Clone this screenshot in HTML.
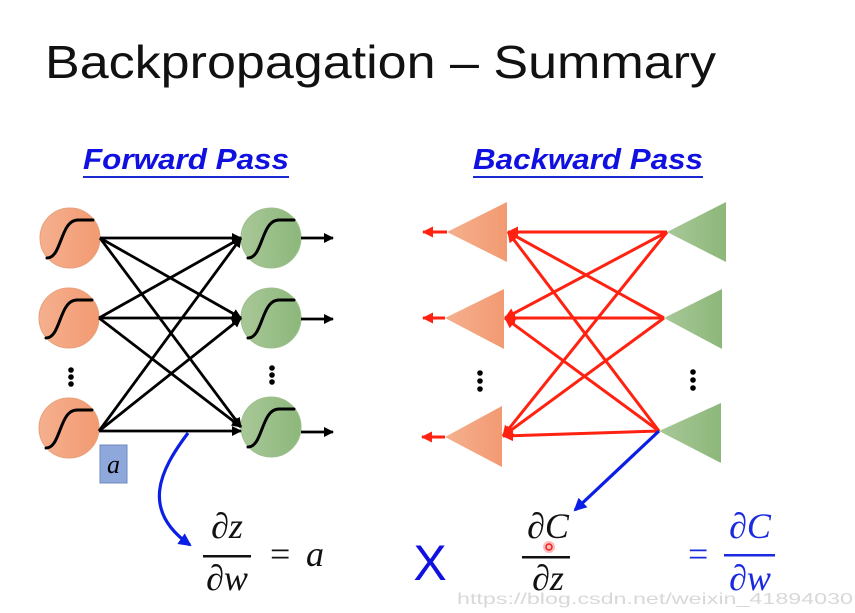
<!DOCTYPE html>
<html><head><meta charset="utf-8"><style>
html,body{margin:0;padding:0;background:#fff;}
svg{display:block;}
</style></head><body>
<svg width="855" height="613" viewBox="0 0 855 613" xmlns="http://www.w3.org/2000/svg">
<defs>
<marker id="ab" markerWidth="10" markerHeight="10" refX="9" refY="5" orient="auto" markerUnits="userSpaceOnUse"><path d="M0,0 L10,5 L0,10 z" fill="#000"/></marker>
<marker id="ar" markerWidth="11" markerHeight="11" refX="10" refY="5.5" orient="auto" markerUnits="userSpaceOnUse"><path d="M0,0 L11,5.5 L0,11 z" fill="#f21"/></marker>
<marker id="abl" markerWidth="13" markerHeight="13" refX="11" refY="6.5" orient="auto" markerUnits="userSpaceOnUse"><path d="M0,0 L13,6.5 L0,13 z" fill="#0a1ee6"/></marker>
<linearGradient id="og" x1="0" x2="1"><stop offset="0" stop-color="#f5b08e"/><stop offset="1" stop-color="#f29a72"/></linearGradient>
<linearGradient id="gg" x1="0" x2="1"><stop offset="0" stop-color="#a9c898"/><stop offset="1" stop-color="#8cb77a"/></linearGradient>
</defs>
<text x="45" y="78" font-family="Liberation Sans, sans-serif" font-size="46" textLength="671" lengthAdjust="spacingAndGlyphs" fill="#111">Backpropagation – Summary</text>
<g font-family="Liberation Sans, sans-serif" font-weight="bold" font-style="italic" font-size="29" fill="#1010e0">
<text x="83" y="169" textLength="206" lengthAdjust="spacingAndGlyphs">Forward Pass</text>
<text x="473" y="169" textLength="230" lengthAdjust="spacingAndGlyphs">Backward Pass</text>
</g>
<rect x="83" y="176" width="206" height="2" fill="#1a2ad0"/>
<rect x="473" y="176" width="230" height="2" fill="#1a2ad0"/>

<!-- forward -->
<g fill="url(#og)" stroke="#e8a07a" stroke-width="1">
<circle cx="70" cy="238" r="30"/><circle cx="69" cy="318" r="30"/><circle cx="69" cy="428" r="30"/>
</g>
<g fill="url(#gg)" stroke="#9dbf8c" stroke-width="1">
<circle cx="271" cy="238" r="30"/><circle cx="271" cy="318" r="30"/><circle cx="271" cy="427" r="30"/>
</g>
<g stroke="#000" stroke-width="3" fill="none" stroke-linecap="round">
<path d="M47,258 C62,258 60,220 78,220 L93,220"/>
<path d="M46,338 C61,338 59,300 77,300 L92,300"/>
<path d="M46,448 C61,448 59,410 77,410 L92,410"/>
<path d="M248,258 C263,258 261,220 279,220 L294,220"/>
<path d="M248,338 C263,338 261,300 279,300 L294,300"/>
<path d="M248,447 C263,447 261,409 279,409 L294,409"/>
</g>
<g stroke="#000" stroke-width="2.8" marker-end="url(#ab)">
<line x1="100" y1="238" x2="241" y2="238"/><line x1="100" y1="238" x2="241" y2="318"/><line x1="100" y1="238" x2="241" y2="427"/>
<line x1="99" y1="318" x2="241" y2="238"/><line x1="99" y1="318" x2="241" y2="318"/><line x1="99" y1="318" x2="241" y2="427"/>
<line x1="99" y1="431" x2="241" y2="238"/><line x1="99" y1="431" x2="241" y2="318"/><line x1="99" y1="431" x2="241" y2="431"/>
<line x1="301" y1="238" x2="333" y2="238"/><line x1="301" y1="319" x2="333" y2="319"/><line x1="301" y1="432" x2="333" y2="432"/>
</g>
<g fill="#000"><circle cx="71" cy="370" r="2.8"/><circle cx="71" cy="377" r="2.8"/><circle cx="71" cy="384" r="2.8"/>
<circle cx="272" cy="368" r="2.8"/><circle cx="272" cy="375" r="2.8"/><circle cx="272" cy="382" r="2.8"/>
<circle cx="480" cy="373" r="2.8"/><circle cx="480" cy="381" r="2.8"/><circle cx="480" cy="389" r="2.8"/>
<circle cx="693" cy="372" r="2.8"/><circle cx="693" cy="380" r="2.8"/><circle cx="693" cy="388" r="2.8"/></g>
<rect x="100" y="445" width="27" height="38" fill="#8fa8dc" stroke="#6f88c0"/>
<text x="113.5" y="473" text-anchor="middle" font-family="Liberation Serif, serif" font-style="italic" font-size="26">a</text>

<!-- backward -->
<g fill="url(#og)"><polygon points="447,232 507,202 507,262"/><polygon points="445,318 504,289 504,349"/><polygon points="445,437 502,406 502,467"/></g>
<g fill="url(#gg)"><polygon points="667,232 726,202 726,262"/><polygon points="664,318 722,289 722,349"/><polygon points="659,431 721,403 721,463"/></g>
<g stroke="#f21" stroke-width="3" marker-end="url(#ar)">
<line x1="667" y1="232" x2="508" y2="232"/><line x1="667" y1="232" x2="505" y2="318"/><line x1="667" y1="232" x2="503" y2="436"/>
<line x1="664" y1="318" x2="508" y2="232"/><line x1="664" y1="318" x2="505" y2="318"/><line x1="664" y1="318" x2="503" y2="436"/>
<line x1="659" y1="431" x2="508" y2="232"/><line x1="659" y1="431" x2="505" y2="318"/><line x1="659" y1="431" x2="503" y2="436"/>
<line x1="447" y1="232" x2="423" y2="232"/><line x1="445" y1="318" x2="423" y2="318"/><line x1="445" y1="437" x2="422" y2="437"/>
</g>
<g stroke="#0a1ee6" stroke-width="3.2" fill="none" marker-end="url(#abl)">
<line x1="659" y1="431" x2="575" y2="510"/>
<path d="M188,433 C160,470 140,510 190,545"/>
</g>

<!-- equations -->
<g font-family="Liberation Serif, serif" font-style="italic" font-size="36" fill="#111">
<text x="227" y="538" text-anchor="middle">∂z</text>
<text x="227" y="590" text-anchor="middle">∂w</text>
<text x="548" y="538" text-anchor="middle">∂C</text>
<text x="548" y="590" text-anchor="middle">∂z</text>
<text x="270" y="566" font-style="normal">=</text><text x="306" y="566">a</text>
</g>
<rect x="203" y="555" width="48" height="2.5" fill="#111"/>
<rect x="522" y="556" width="48" height="2.5" fill="#111"/>
<text x="430" y="580" text-anchor="middle" font-family="Liberation Sans, sans-serif" font-size="50" fill="#1010e0">X</text>
<g font-family="Liberation Serif, serif" font-style="italic" font-size="36" fill="#1a2ae0">
<text x="688" y="566" font-style="normal">=</text>
<text x="750" y="538" text-anchor="middle">∂C</text>
<text x="750" y="590" text-anchor="middle">∂w</text>
</g>
<rect x="724" y="554" width="51" height="2.5" fill="#1a2ae0"/>
<circle cx="549" cy="547" r="6" fill="#f77" opacity="0.5"/><circle cx="549" cy="547" r="3" fill="none" stroke="#e22" stroke-width="1.5"/>
<text x="457" y="604" font-family="Liberation Sans, sans-serif" font-size="16" fill="#d8d8d8" textLength="396" lengthAdjust="spacingAndGlyphs">https://blog.csdn.net/weixin_41894030</text>
</svg>
</body></html>
